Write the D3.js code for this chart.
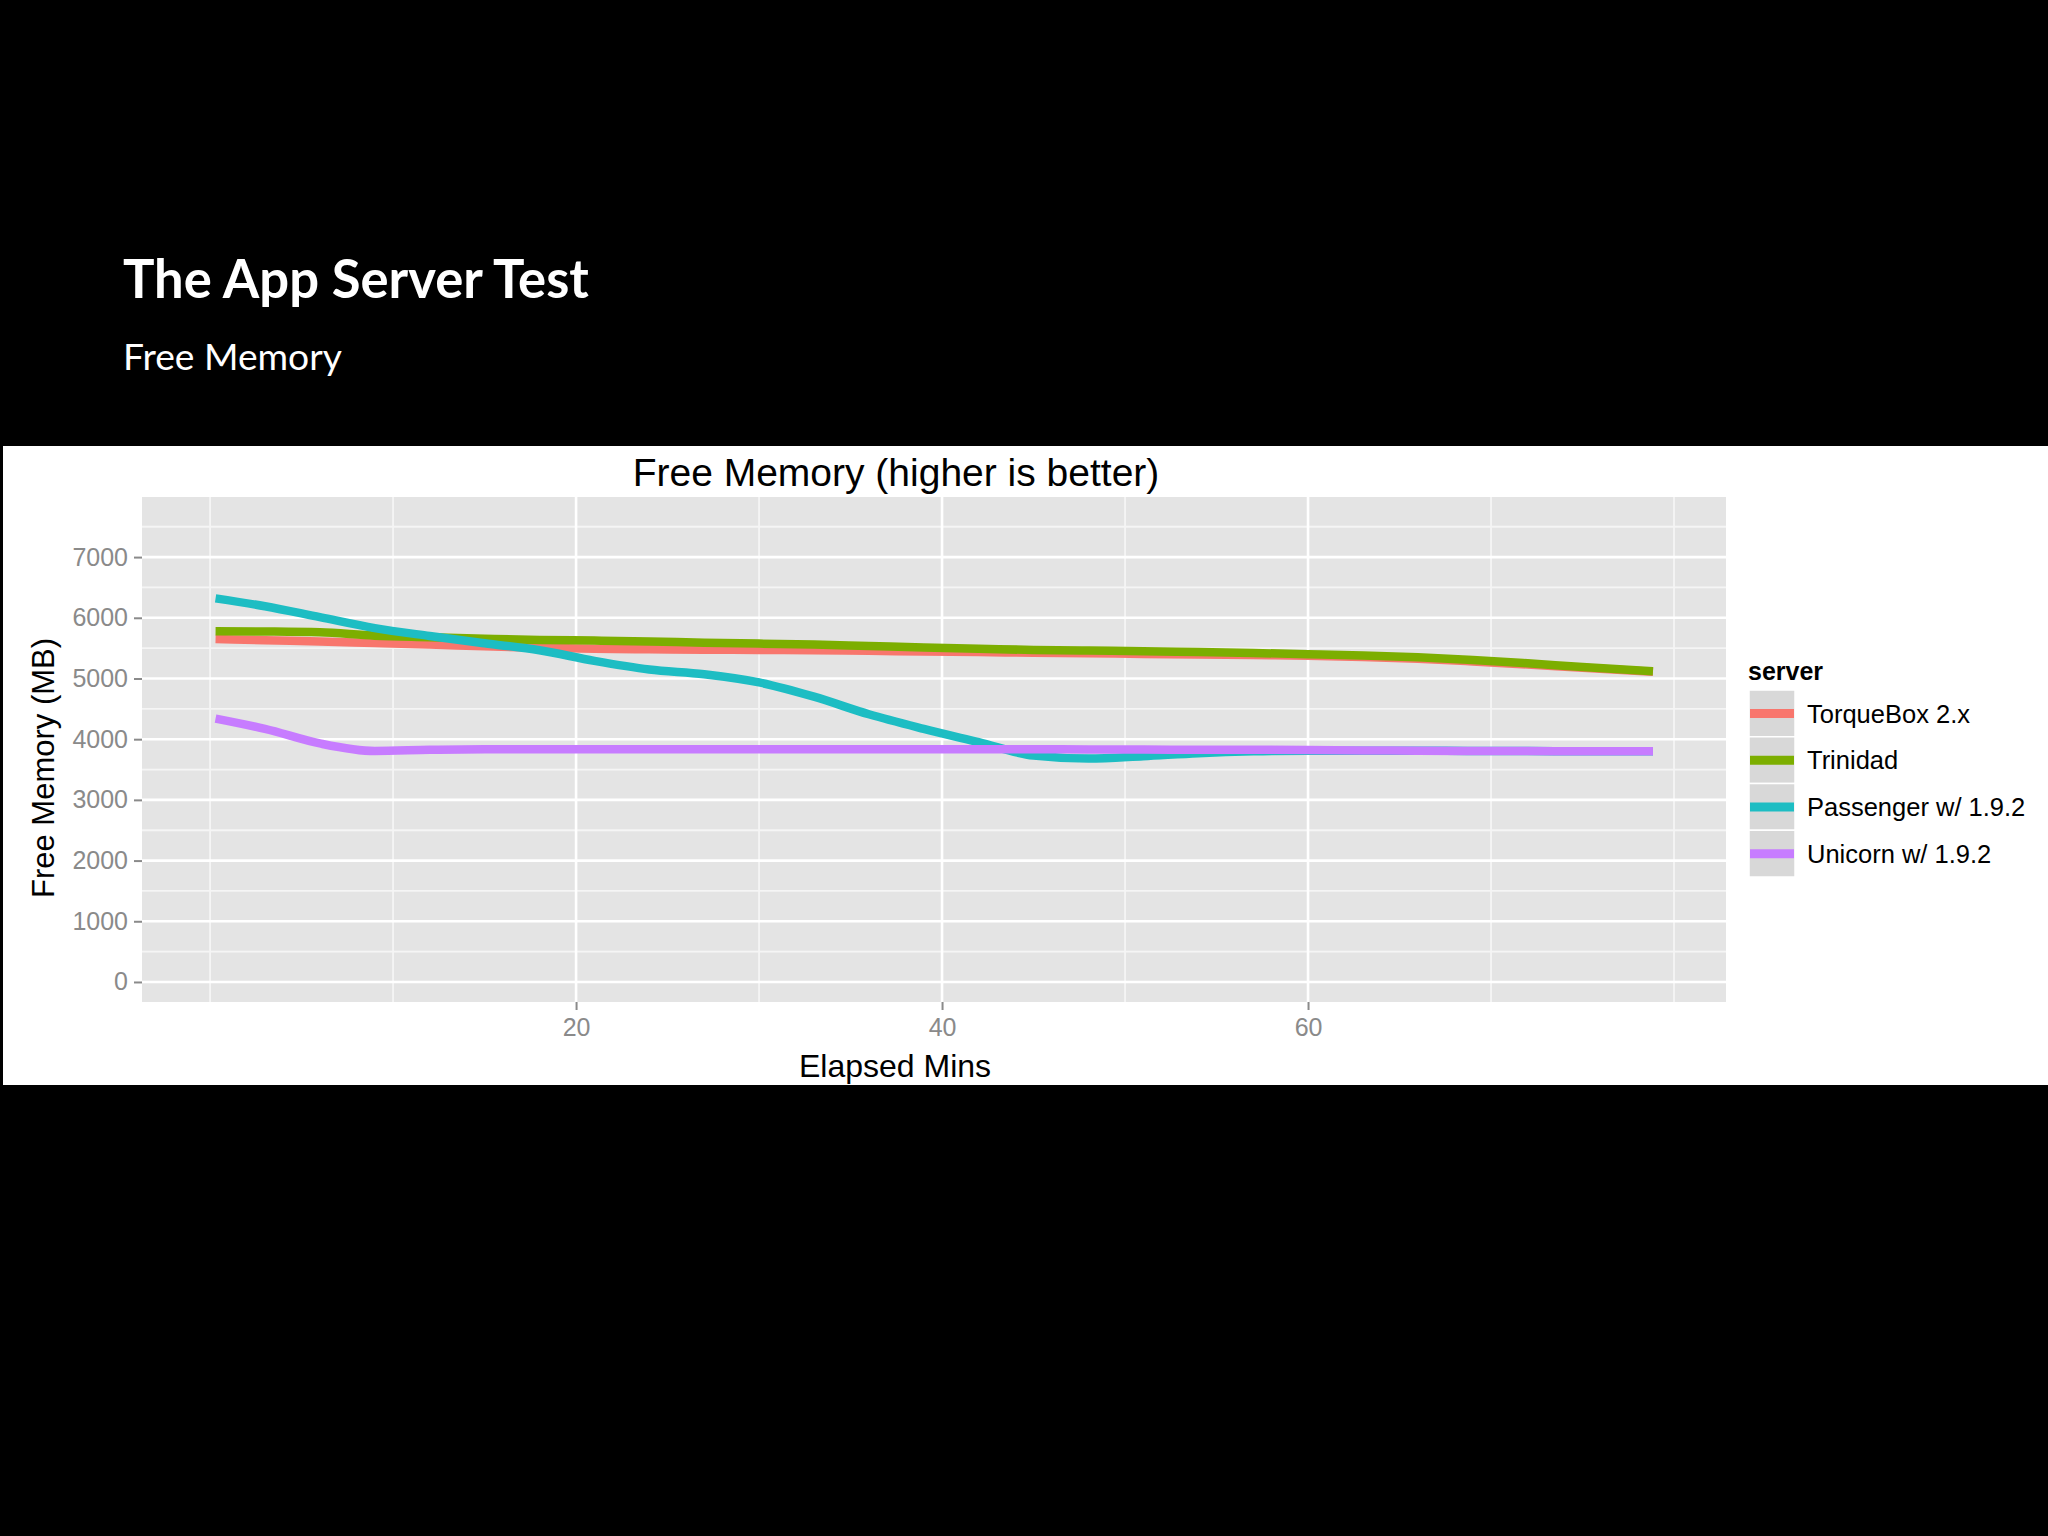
<!DOCTYPE html>
<html>
<head>
<meta charset="utf-8">
<script src="https://cdn.jsdelivr.net/npm/d3@7"></script>
<style>
  html, body { margin: 0; padding: 0; background: #000; }
  svg { display: block; }
</style>
</head>
<body>
<svg id="chart" width="2048" height="1536"></svg>
<script>
// ---------- DATA ----------
const minutes = [0.3, 3, 6, 9, 12, 15, 18, 21, 24, 27, 30, 33, 36, 39, 42, 45, 48, 51, 54, 57, 60, 63, 66, 69, 72, 75, 78.85];
const torqueBox = [5650, 5630, 5610, 5585, 5560, 5530, 5505, 5490, 5480, 5475, 5470, 5465, 5455, 5445, 5435, 5425, 5415, 5405, 5395, 5385, 5375, 5355, 5325, 5280, 5230, 5175, 5110];
const trinidad  = [5780, 5775, 5760, 5705, 5680, 5655, 5635, 5625, 5610, 5590, 5575, 5560, 5535, 5510, 5490, 5470, 5460, 5450, 5435, 5420, 5400, 5380, 5350, 5305, 5250, 5190, 5120];
const passenger = [6320, 6190, 6010, 5830, 5700, 5580, 5465, 5290, 5148, 5070, 4935, 4700, 4410, 4170, 3950, 3730, 3680, 3720, 3770, 3800, 3810, 3810, 3810, 3805, 3805, 3800, 3800];
const unicorn   = [4340, 4170, 3930, 3805, 3825, 3835, 3835, 3835, 3835, 3835, 3835, 3835, 3835, 3835, 3835, 3835, 3830, 3830, 3825, 3825, 3820, 3815, 3810, 3805, 3805, 3800, 3800];
const seriesNames = ["TorqueBox 2.x", "Trinidad", "Passenger w/ 1.9.2", "Unicorn w/ 1.9.2"];
const seriesValues = [torqueBox, trinidad, passenger, unicorn];
const seriesColors = ["#F8766D", "#7CAE00", "#1DBDC3", "#C77CFF"];
const yMajorTicks = [0, 1000, 2000, 3000, 4000, 5000, 6000, 7000];
const yMinorTicks = [500, 1500, 2500, 3500, 4500, 5500, 6500, 7500];
const xMajorTicks = [20, 40, 60];
const xMinorTicks = [0, 10, 30, 50, 70, 80];
const slideTitle = "The App Server Test";
const slideSubtitle = "Free Memory";
const chartTitle = "Free Memory (higher is better)";
const xTitle = "Elapsed Mins";
const yTitle = "Free Memory (MB)";
const legendTitle = "server";

// ---------- DRAW ----------
const svg = d3.select("#chart");
svg.append("rect").attr("x", 0).attr("y", 0).attr("width", 2048).attr("height", 1536).attr("fill", "#000");

function fitWidth(sel, target) {
  const w = sel.node().getComputedTextLength();
  const fs = parseFloat(sel.attr("font-size"));
  sel.attr("font-size", (fs * target / w).toFixed(2));
}

const t1 = svg.append("text").attr("x", 123).attr("y", 298)
  .attr("font-family", "Lato, 'Open Sans', sans-serif").attr("font-weight", 700)
  .attr("font-size", 52).attr("fill", "#fff").text(slideTitle);
fitWidth(t1, 466);
const t2 = svg.append("text").attr("x", 123).attr("y", 370)
  .attr("font-family", "Lato, 'Open Sans', sans-serif").attr("font-weight", 400)
  .attr("font-size", 36).attr("fill", "#fff").text(slideSubtitle);
fitWidth(t2, 219);

// white chart image area
svg.append("rect").attr("x", 3).attr("y", 446).attr("width", 2045).attr("height", 639).attr("fill", "#fff");

const panel = { left: 142, right: 1726, top: 497, bottom: 1002 };
const x = d3.scaleLinear().domain([-3.72, 82.84]).range([panel.left, panel.right]);
const y = d3.scaleLinear().domain([-330, 7990]).range([panel.bottom, panel.top]);

const font = "'Liberation Sans', Arial, sans-serif";
const g = svg.append("g");

g.append("rect").attr("x", panel.left).attr("y", panel.top)
  .attr("width", panel.right - panel.left).attr("height", panel.bottom - panel.top)
  .attr("fill", "#E4E4E4");

// minor grid
g.selectAll(".ymin").data(yMinorTicks).join("line")
  .attr("x1", panel.left).attr("x2", panel.right)
  .attr("y1", d => y(d)).attr("y2", d => y(d))
  .attr("stroke", "#F5F5F5").attr("stroke-width", 1.8);
g.selectAll(".xmin").data(xMinorTicks).join("line")
  .attr("y1", panel.top).attr("y2", panel.bottom)
  .attr("x1", d => x(d)).attr("x2", d => x(d))
  .attr("stroke", "#F5F5F5").attr("stroke-width", 1.8);
// major grid
g.selectAll(".ymaj").data(yMajorTicks).join("line")
  .attr("x1", panel.left).attr("x2", panel.right)
  .attr("y1", d => y(d)).attr("y2", d => y(d))
  .attr("stroke", "#FFFFFF").attr("stroke-width", 2.6);
g.selectAll(".xmaj").data(xMajorTicks).join("line")
  .attr("y1", panel.top).attr("y2", panel.bottom)
  .attr("x1", d => x(d)).attr("x2", d => x(d))
  .attr("stroke", "#FFFFFF").attr("stroke-width", 2.6);

// axes
const yAxis = d3.axisLeft(y).tickValues(yMajorTicks).tickSize(8).tickPadding(6).tickFormat(d3.format("d"));
const yg = svg.append("g").attr("transform", `translate(${panel.left},0)`).call(yAxis);
const xAxis = d3.axisBottom(x).tickValues(xMajorTicks).tickSize(8).tickPadding(8).tickFormat(d3.format("d"));
const xg = svg.append("g").attr("transform", `translate(0,${panel.bottom})`).call(xAxis);
[yg, xg].forEach(ax => {
  ax.select(".domain").remove();
  ax.selectAll(".tick line").attr("stroke", "#8A8A8A").attr("stroke-width", 2);
  ax.selectAll(".tick text").attr("fill", "#8A8A8A").attr("font-family", font).attr("font-size", 25);
});

// lines
const line = d3.line().x((d, i) => x(minutes[i])).y(d => y(d)).curve(d3.curveMonotoneX);
const plot = svg.append("g");
seriesValues.forEach((vals, k) => {
  plot.append("path").datum(vals)
    .attr("d", line)
    .attr("fill", "none")
    .attr("stroke", seriesColors[k])
    .attr("stroke-width", 8.5)
    .attr("stroke-linejoin", "round")
    .attr("stroke-linecap", "butt");
});

// titles
svg.append("text").attr("x", 896).attr("y", 486).attr("text-anchor", "middle")
  .attr("font-family", font).attr("font-size", 39).attr("fill", "#000").text(chartTitle);
svg.append("text").attr("x", 895).attr("y", 1077).attr("text-anchor", "middle")
  .attr("font-family", font).attr("font-size", 32).attr("fill", "#000").text(xTitle);
svg.append("text").attr("transform", "translate(54,768) rotate(-90)").attr("text-anchor", "middle")
  .attr("font-family", font).attr("font-size", 31).attr("fill", "#000").text(yTitle);

// legend
const leg = svg.append("g");
leg.append("text").attr("x", 1748).attr("y", 680)
  .attr("font-family", font).attr("font-weight", 700).attr("font-size", 25).attr("fill", "#000").text(legendTitle);
const keyH = 46.75, keyW = 46, keyX = 1749, keyY = 690;
seriesNames.forEach((name, k) => {
  const yy = keyY + k * keyH;
  leg.append("rect").attr("x", keyX).attr("y", yy).attr("width", keyW).attr("height", keyH)
    .attr("fill", "#D8D8D8").attr("stroke", "#FFFFFF").attr("stroke-width", 1.5);
  leg.append("line").attr("x1", keyX + 1).attr("x2", keyX + keyW - 1)
    .attr("y1", yy + keyH / 2).attr("y2", yy + keyH / 2)
    .attr("stroke", seriesColors[k]).attr("stroke-width", 9);
  leg.append("text").attr("x", 1807).attr("y", yy + keyH / 2).attr("dy", "0.36em")
    .attr("font-family", font).attr("font-size", 25.5).attr("fill", "#000").text(name);
});
</script>
</body>
</html>
